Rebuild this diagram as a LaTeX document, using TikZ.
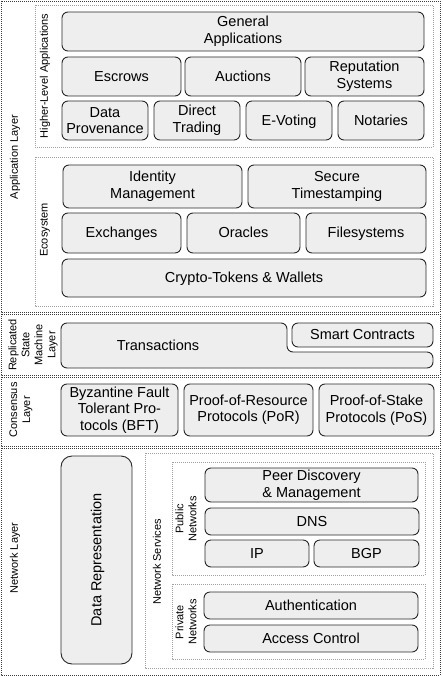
\documentclass[tikz,border=0pt]{standalone}
\usepackage{fontspec}
\setmainfont{Liberation Sans}
\usepackage{tikz}
\usetikzlibrary{positioning,calc}
\definecolor{boxfill}{RGB}{238,238,238}
\definecolor{boxline}{RGB}{40,40,40}
\definecolor{layerline}{RGB}{60,60,60}
\definecolor{groupline}{RGB}{160,160,160}

\begin{document}
\begin{tikzpicture}[x=1pt, y=-1pt,
        box/.style={rectangle, draw=boxline, fill=boxfill, line width=0.9pt,
                    rounded corners=6pt, align=center, inner sep=1pt,
                    font=\fontsize{14.5}{16.5}\selectfont},
        oneline/.style={text height=10.5pt, text depth=1pt},
        layer/.style={draw=layerline, line width=0.9pt, dash pattern=on 1pt off 1pt},
        group/.style={draw=groupline, line width=0.8pt, dash pattern=on 1pt off 1pt},
        side/.style={rotate=90, align=center, inner sep=0pt,
                     font=\fontsize{11}{13}\selectfont}
    ]
    \useasboundingbox (0,0) rectangle (442,676);

    % layer frames
    \draw[layer] (1,1) rectangle (440,312);
    \draw[layer] (1,314) rectangle (440,375);
    \draw[layer] (1,377) rectangle (440,446);
    \draw[layer] (1,448) rectangle (440,675);

    % group frames
    \draw[group] (35,5) rectangle (433,147);
    \draw[group] (35,157) rectangle (433,306);
    \draw[group] (145,453) rectangle (433,668);
    \draw[group] (172,462) rectangle (425,575);
    \draw[group] (172,584) rectangle (425,659);

    % side labels
    \node[side] (applbl) at (15,157) {Application Layer};
    \node[side] (hlalbl) at (45,76) {Higher-Level Applications};
    \node[side] (ecolbl) at (45,230) {Ecosystem};
    \node[side] (rsmlbl) at (33,345) {Replicated\\State\\Machine\\Layer};
    \node[side] (conlbl) at (21,410) {Consensus\\Layer};
    \node[side] (netlbl) at (15,558) {Network Layer};
    \node[side] (srvlbl) at (157,562) {Network Services};
    \node[side] (publbl) at (186,519) {Public\\Networks};
    \node[side] (prilbl) at (186,622) {Private\\Networks};

    % higher-level applications
    \node[box, minimum width=362pt, minimum height=39pt] (general) at (243,31.5) {General\\Applications};
    \node[box, oneline, minimum width=119pt, minimum height=39pt] (escrows) at (121.5,76.5) {Escrows};
    \node[box, oneline, minimum width=116pt, minimum height=39pt] (auctions) at (243,76.5) {Auctions};
    \node[box, minimum width=119pt, minimum height=39pt] (reputation) at (364.5,76.5) {Reputation\\Systems};
    \node[box, minimum width=86pt, minimum height=39pt] (provenance) at (105,120.5) {Data\\Provenance};
    \node[box, minimum width=86pt, minimum height=39pt] (trading) at (197,120.5) {Direct\\Trading};
    \node[box, oneline, minimum width=86pt, minimum height=39pt] (evoting) at (289,120.5) {E-Voting};
    \node[box, oneline, minimum width=86pt, minimum height=39pt] (notaries) at (381,120.5) {Notaries};

    % ecosystem
    \node[box, minimum width=179pt, minimum height=43pt] (identity) at (152.5,186.5) {Identity\\Management};
    \node[box, minimum width=178pt, minimum height=43pt] (timestamp) at (337,186.5) {Secure\\Timestamping};
    \node[box, oneline, minimum width=119pt, minimum height=40pt] (exchanges) at (121.5,233) {Exchanges};
    \node[box, oneline, minimum width=113pt, minimum height=40pt] (oracles) at (243.5,233) {Oracles};
    \node[box, oneline, minimum width=120pt, minimum height=40pt] (filesys) at (366,233) {Filesystems};
    \node[box, oneline, minimum width=364pt, minimum height=38pt] (tokens) at (244,278) {Crypto-Tokens \& Wallets};

    % replicated state machine
    \draw[draw=boxline, fill=boxfill, line width=0.9pt, rounded corners=6pt]
        (61,323) -- (287,323) -- (287,352) -- (433,352) -- (433,368) -- (61,368) -- cycle;
    \node[oneline, font=\fontsize{14.5}{16.5}\selectfont, inner sep=0pt] (transactions) at (158,346) {Transactions};
    \node[box, oneline, minimum width=141pt, minimum height=24pt] (contracts) at (362.5,335) {Smart Contracts};

    % consensus
    \node[box, minimum width=117pt, minimum height=52pt] (bft) at (119.5,410) {Byzantine Fault\\Tolerant Pro-\\tocols (BFT)};
    \node[box, minimum width=129pt, minimum height=52pt] (por) at (248.5,410) {Proof-of-Resource\\Protocols (PoR)};
    \node[box, minimum width=115pt, minimum height=52pt] (pos) at (376.5,410) {Proof-of-Stake\\Protocols (PoS)};

    % network
    \node[box, rounded corners=11pt, minimum width=71pt, minimum height=208pt] (datarep) at (96.5,560) {};
    \node[rotate=90, oneline, font=\fontsize{14.5}{16.5}\selectfont] (datareplbl) at (datarep.center) {Data Representation};
    \node[box, minimum width=213pt, minimum height=34pt] (peers) at (311.5,485) {Peer Discovery\\\& Management};
    \node[box, oneline, minimum width=214pt, minimum height=27pt] (dns) at (312,521.5) {DNS};
    \node[box, oneline, minimum width=104pt, minimum height=27pt] (ip) at (257,553.5) {IP};
    \node[box, oneline, minimum width=105pt, minimum height=27pt] (bgp) at (366.5,553.5) {BGP};
    \node[box, oneline, minimum width=214pt, minimum height=27pt] (auth) at (311,605.5) {Authentication};
    \node[box, oneline, minimum width=214pt, minimum height=27pt] (access) at (311,638.5) {Access Control};
    \end{tikzpicture}
\end{document}
